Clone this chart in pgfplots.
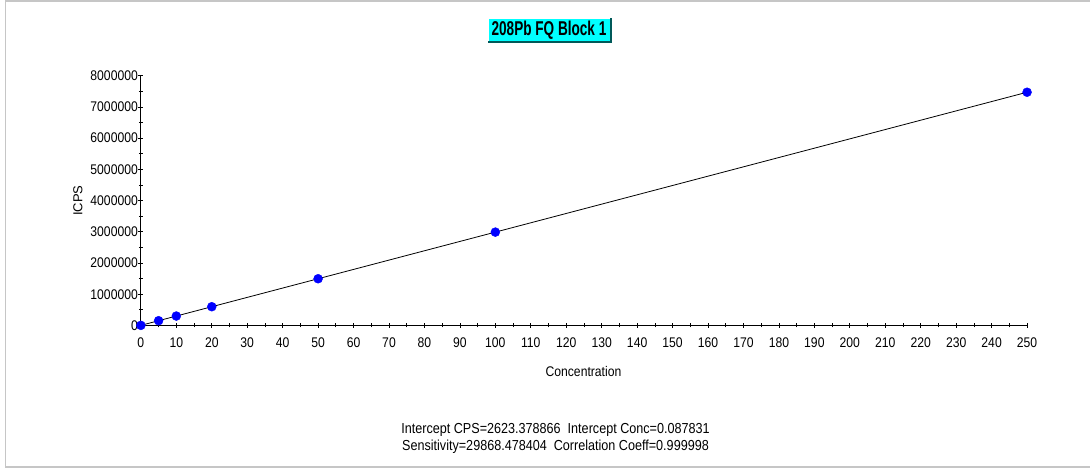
\documentclass[border=0pt]{standalone}
\usepackage{pgfplots}
\pgfplotsset{compat=1.18}
\usepackage{fontspec}
\setmainfont{Liberation Sans}
\newfontfamily\titlefont[FakeStretch=0.68]{Liberation Sans Bold}
\newfontfamily\tickfont[FakeStretch=0.87]{Liberation Sans}
\definecolor{ptblue}{RGB}{0,0,255}
\definecolor{titlecyan}{RGB}{0,255,255}
\begin{document}
\begin{tikzpicture}[x=1pt,y=1pt]
\fill[white] (0,0) rectangle (1091,470);
\draw[gray!45,line width=1.5pt] (5.5,3) -- (5.5,470);
\draw[gray!45,line width=1.5pt] (5.5,469.5) -- (1091,469.5);
\draw[gray!45,line width=2pt] (5.5,3) -- (1091,3);
\begin{axis}[
  at={(141pt,145pt)}, anchor=origin,
  scale only axis, width=887pt, height=250pt,
  xmin=0, xmax=250, ymin=0, ymax=8000000,
  axis lines=left, axis line style={black, -, line width=0.8pt},
  xtick={0,10,...,250}, minor xtick={5,15,...,245},
  ytick={0,1000000,...,8000000}, minor ytick={500000,1500000,...,7500000},
  tick style={black, line width=0.7pt},
  major tick length=5pt, minor tick length=4pt,
  tick align=center,
  scaled y ticks=false,
  yticklabel style={/pgf/number format/fixed, /pgf/number format/1000 sep={}},
  /pgf/number format/assume math mode=true,
  ticklabel style={font=\tickfont\fontsize{14}{16}\selectfont},
  xticklabel style={yshift=-6pt},
  yticklabel style={xshift=3pt},
  clip=false,
]
\addplot[black, line width=0.8pt, no marks] coordinates {(0,2623.38) (250,7469742.48)};
\addplot[only marks, mark=*, mark size=4.5pt, color=ptblue, mark options={fill=ptblue, draw=ptblue}] coordinates {
(0,2623) (5,151966) (10,301308) (20,599993) (50,1496047) (100,2989471) (250,7469743)};
\end{axis}
\node[rotate=90, font=\fontsize{13}{15}\selectfont] at (78,270) {ICPS};
\node[font=\tickfont\fontsize{14}{16}\selectfont] at (584,99) {Concentration};
\node[font=\tickfont\fontsize{14.5}{17}\selectfont, align=center] at (556,31.5) {Intercept CPS=2623.378866\ \ Intercept Conc=0.087831\\Sensitivity=29868.478404\ \ Correlation Coeff=0.999998};
% title box with bevel
\fill[titlecyan] (488,428) rectangle (612,453);
\draw[white, line width=1.2pt] (488.6,428.6) -- (488.6,452.4) -- (611.4,452.4);
\draw[teal!70!black, line width=1.4pt] (488.6,428.6) -- (611.4,428.6) -- (611.4,452.4);
\node[font=\titlefont\fontsize{20}{22}\selectfont] at (549.5,440.5) {208Pb FQ Block 1};
\end{tikzpicture}
\end{document}
